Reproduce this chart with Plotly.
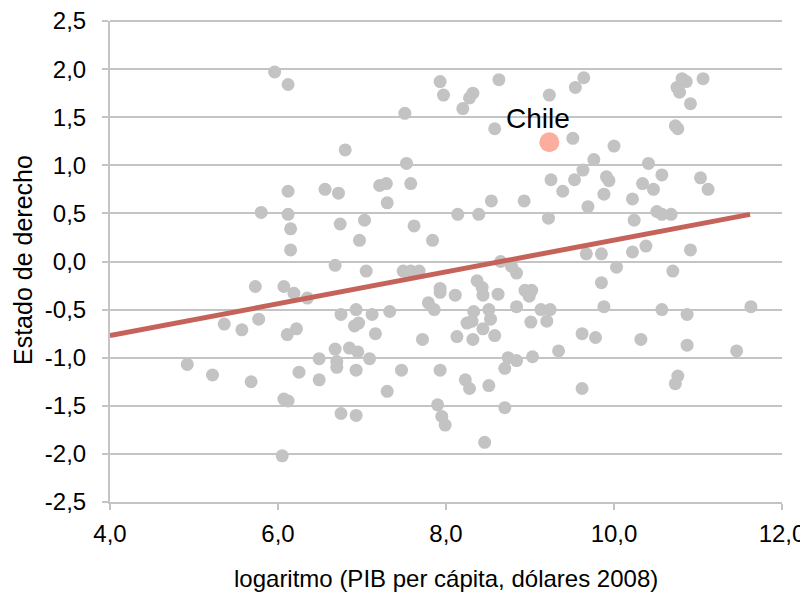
import plotly.graph_objects as go

# Gray country points: log GDP per capita (x) and rule of law index (y)
pib_log = [
    5.96, 6.12, 6.12, 5.80, 6.12, 6.15, 6.15, 5.73, 6.07, 6.19,
    5.36, 5.57, 5.77, 6.11, 6.22, 4.92, 5.22, 5.68, 6.07, 6.12,
    6.25, 6.05, 7.93, 7.97, 7.51, 6.80, 7.53, 6.56, 6.72, 7.21,
    7.29, 7.58, 7.30, 6.74, 7.03, 6.97, 7.62, 7.84, 6.68, 7.05,
    7.49, 7.58, 7.68, 6.35, 7.93, 7.93, 7.79, 7.86, 6.75, 6.93,
    7.12, 7.33, 6.91, 6.96, 7.16, 7.72, 6.68, 6.85, 6.95, 7.09,
    6.49, 6.70, 6.70, 6.93, 6.49, 7.47, 7.93, 7.30, 6.75, 6.93,
    7.90, 7.95, 7.99, 8.63, 8.32, 8.28, 8.20, 9.23, 9.54, 9.64,
    8.58, 9.51, 10.00, 9.76, 9.63, 9.91, 9.94, 9.25, 9.53, 9.39,
    9.88, 9.69, 8.54, 8.93, 8.14, 8.39, 9.22, 8.65, 9.67, 9.85,
    8.78, 8.84, 10.03, 9.85, 9.88, 8.11, 8.37, 8.43, 8.44, 8.62,
    8.94, 9.02, 8.99, 8.84, 8.33, 8.51, 8.25, 8.31, 8.53, 8.44,
    9.13, 9.24, 9.20, 9.01, 8.13, 8.32, 8.58, 9.62, 9.78, 9.34,
    9.03, 8.74, 8.84, 8.70, 8.23, 8.28, 8.51, 9.62, 8.70, 8.46,
    10.81, 10.86, 10.75, 10.78, 11.06, 10.91, 10.73, 10.76, 10.41, 10.57,
    10.34, 10.47, 11.03, 11.12, 10.22, 10.24, 10.51, 10.57, 10.68, 10.22,
    10.38, 10.91, 10.70, 10.57, 10.87, 11.63, 10.32, 10.87, 11.46, 10.76,
    10.73,
]
estado_derecho = [
    1.97, 1.84, 0.73, 0.51, 0.49, 0.34, 0.12, -0.26, -0.26, -0.33,
    -0.65, -0.71, -0.60, -0.76, -0.70, -1.07, -1.18, -1.25, -1.43, -1.45,
    -1.15, -2.02, 1.87, 1.73, 1.54, 1.16, 1.02, 0.75, 0.71, 0.79,
    0.81, 0.81, 0.61, 0.39, 0.43, 0.22, 0.37, 0.22, -0.04, -0.10,
    -0.10, -0.10, -0.10, -0.38, -0.28, -0.32, -0.43, -0.50, -0.55, -0.50,
    -0.55, -0.52, -0.67, -0.64, -0.75, -0.81, -0.91, -0.90, -0.94, -1.01,
    -1.01, -1.04, -1.10, -1.13, -1.23, -1.13, -1.13, -1.35, -1.58, -1.60,
    -1.49, -1.61, -1.70, 1.89, 1.75, 1.70, 1.59, 1.73, 1.81, 1.91,
    1.38, 1.28, 1.20, 1.06, 0.95, 0.88, 0.84, 0.85, 0.85, 0.73,
    0.70, 0.57, 0.63, 0.63, 0.49, 0.49, 0.45, 0.00, 0.08, 0.08,
    -0.05, -0.12, -0.06, -0.22, -0.47, -0.35, -0.20, -0.27, -0.35, -0.34,
    -0.30, -0.30, -0.36, -0.47, -0.52, -0.50, -0.64, -0.62, -0.60, -0.70,
    -0.50, -0.50, -0.62, -0.63, -0.78, -0.81, -0.77, -0.75, -0.79, -0.93,
    -0.99, -1.00, -1.03, -1.11, -1.23, -1.32, -1.29, -1.32, -1.52, -1.88,
    1.90, 1.87, 1.81, 1.76, 1.90, 1.64, 1.41, 1.38, 1.02, 0.90,
    0.81, 0.75, 0.87, 0.75, 0.65, 0.43, 0.52, 0.49, 0.49, 0.10,
    0.16, 0.12, -0.10, -0.50, -0.55, -0.47, -0.81, -0.87, -0.93, -1.19,
    -1.27,
]

# Highlighted country
chile_name = "Chile"
chile_x = [9.23]
chile_y = [1.24]

# Trend line end points
trend_x = [4.0, 11.62]
trend_y = [-0.77, 0.49]

# Axis ticks
x_tickvals = [4, 6, 8, 10, 12]
x_ticktext = ["4,0", "6,0", "8,0", "10,0", "12,0"]
y_tickvals = [2.5, 2.0, 1.5, 1.0, 0.5, 0.0, -0.5, -1.0, -1.5, -2.0, -2.5]
y_ticktext = ["2,5", "2,0", "1,5", "1,0", "0,5", "0,0", "-0,5", "-1,0", "-1,5", "-2,0", "-2,5"]

x_title = "logaritmo (PIB per cápita, dólares 2008)"
y_title = "Estado de derecho"

FONT = "Liberation Sans, Arial, sans-serif"
GRID = "#C4C4C4"

fig = go.Figure()

fig.add_trace(go.Scatter(
    x=pib_log, y=estado_derecho, mode="markers",
    marker=dict(size=13, color="#C3C3C3", line=dict(width=0)),
    hoverinfo="skip", showlegend=False,
))
fig.add_trace(go.Scatter(
    x=trend_x, y=trend_y, mode="lines",
    line=dict(color="#C5635A", width=5),
    hoverinfo="skip", showlegend=False,
))
fig.add_trace(go.Scatter(
    x=chile_x, y=chile_y, mode="markers",
    marker=dict(size=20, color="#FBAE9E", line=dict(width=0)),
    hoverinfo="skip", showlegend=False,
))

# top gridline at the upper edge of the plot, drawn above the plot background
fig.add_shape(
    type="line", xref="paper", yref="paper",
    x0=0, x1=1, y0=1, y1=1,
    line=dict(color=GRID, width=2), layer="above",
)

fig.add_annotation(
    x=chile_x[0], y=chile_y[0], xref="x", yref="y",
    text=chile_name, showarrow=False,
    xshift=-11, yshift=24,
    font=dict(family=FONT, size=28, color="#000000"),
)

fig.add_annotation(
    x=0.5, y=-0.16, xref="paper", yref="paper",
    text=x_title, showarrow=False, xanchor="center", yanchor="middle",
    font=dict(family=FONT, size=24, color="#000000"),
)
fig.add_annotation(
    x=-0.1295, y=0.503, xref="paper", yref="paper",
    text=y_title, showarrow=False, textangle=-90,
    xanchor="center", yanchor="middle",
    font=dict(family=FONT, size=25, color="#000000"),
)

fig.update_layout(
    width=800, height=588,
    margin=dict(l=102, r=26, t=13, b=94, autoexpand=False),
    paper_bgcolor="white", plot_bgcolor="white",
    font=dict(family=FONT, size=24, color="#000000"),
    xaxis=dict(
        range=[4, 12], tickvals=x_tickvals, ticktext=x_ticktext,
        showgrid=False, zeroline=False, automargin=False,
        showline=True, linecolor=GRID, linewidth=2,
        ticks="outside", ticklen=6, tickwidth=2, tickcolor=GRID,
        ticklabelstandoff=3, ticklabeloverflow="allow",
        tickfont=dict(family=FONT, size=24),
    ),
    yaxis=dict(
        range=[-2.5, 2.5], tickvals=y_tickvals, ticktext=y_ticktext,
        showgrid=True, gridcolor=GRID, gridwidth=2, zeroline=False,
        automargin=False,
        showline=True, linecolor=GRID, linewidth=2, mirror=False,
        ticks="outside", ticklen=6, tickwidth=2, tickcolor=GRID,
        ticklabelstandoff=11, ticklabeloverflow="allow",
        tickfont=dict(family=FONT, size=24),
    ),
)

fig.write_html("out.html")
